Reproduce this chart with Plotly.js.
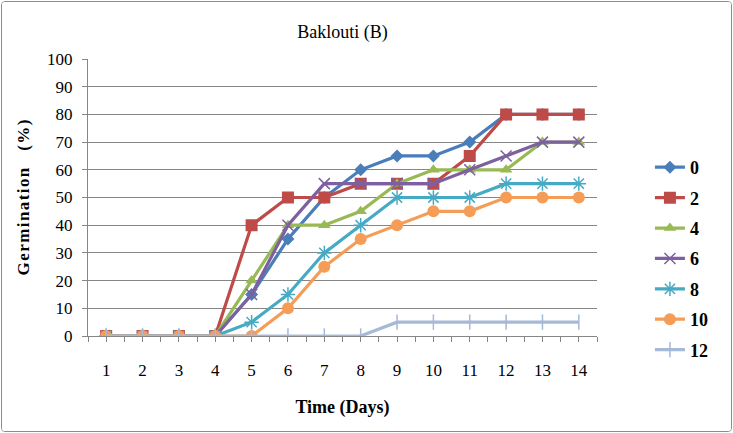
<!DOCTYPE html>
<html><head><meta charset="utf-8">
<script src="https://cdn.plot.ly/plotly-3.0.1.min.js"></script>
<style>
html,body{margin:0;padding:0;background:#fff;}
#wrap{position:absolute;left:1px;top:1px;width:729px;height:429px;border:1px solid #8c8c8c;border-radius:4px;overflow:hidden;}
#chart{width:729px;height:429px;}
</style></head>
<body><div id="wrap"><div id="chart"></div></div>
<script>
const days = [1,2,3,4,5,6,7,8,9,10,11,12,13,14];
const seriesNames = ['0','2','4','6','8','10','12'];
const s0  = [0,0,0,0,15,35,50,60,65,65,70,80,80,80];
const s2  = [0,0,0,0,40,50,50,55,55,55,65,80,80,80];
const s4  = [0,0,0,0,20,40,40,45,55,60,60,60,70,70];
const s6  = [0,0,0,0,15,40,55,55,55,55,60,65,70,70];
const s8  = [0,0,0,0,5,15,30,40,50,50,50,55,55,55];
const s10 = [0,0,0,0,0,10,25,35,40,45,45,50,50,50];
const s12 = [0,0,0,0,0,0,0,0,5,5,5,5,5,5];
const yTickVals = [0,10,20,30,40,50,60,70,80,90,100];

const values = [s0,s2,s4,s6,s8,s10,s12];
const colors = ['#4A7EBB','#BE4B48','#98B954','#7D60A0','#46AAC5','#F59D56','#A5B9D8'];
const symbols = ['diamond','square','triangle-up','x-thin-open','asterisk-open','circle','line-ns-open'];
const sizes = [10,12,11,11,12,12,11];

const traces = values.map((v,i)=>({
  x: days, y: v, name: seriesNames[i], type:'scatter', mode:'lines+markers',
  line:{color:colors[i], width:3.2},
  marker:{symbol:symbols[i], size:sizes[i], color:colors[i], line:{color:colors[i], width:(i>=3 && i!==5)?1.5:0}},
  legendgroup:'g'+i
}));

const serif = 'Liberation Serif';
const hs = '\u200A';
const yTitle = 'Germination'.split('').join(hs) + '\u00A0\u00A0\u00A0\u00A0' + '(%)'.split('').join(hs);
const layout = {
  width:729, height:429,
  margin:{l:86, r:134, t:57, b:95},
  paper_bgcolor:'#fff', plot_bgcolor:'#fff',
  showlegend:true,
  font:{family:serif},
  title:{text:'Baklouti (B)', x:0.5, xref:'paper', y:0.93, yref:'container', yanchor:'middle', font:{family:serif, size:18, color:'#000'}},
  xaxis:{range:[0.5,14.5], tickvals:days, ticks:'outside', ticklen:5, tickcolor:'#868686',
    minor:{dtick:0.5, tick0:0.5, ticks:'outside', ticklen:5, tickcolor:'#868686'},
    showgrid:false, showline:true, linecolor:'#868686', linewidth:1, zeroline:false,
    ticklabelstandoff:14,
    tickfont:{family:serif, size:17, color:'#000'},
    title:{text:'<b>Time (Days)</b>', font:{family:serif, size:18, color:'#000'}, standoff:20}},
  yaxis:{range:[0,100], tickvals:yTickVals, ticks:'outside', ticklen:5, tickcolor:'#868686',
    showgrid:true, gridcolor:'#868686', gridwidth:1, showline:true, linecolor:'#868686', zeroline:false,
    ticklabelstandoff:6,
    tickfont:{family:serif, size:17, color:'#000'},
    title:{text:'<b>'+yTitle+'</b>', font:{family:serif, size:17, color:'#000'}, standoff:13}},
  legend:{x:1.104, xanchor:'left', y:0.675, yanchor:'top', font:{family:serif, size:18, color:'#000', weight:'bold'},
    tracegroupgap:4, itemwidth:30, bgcolor:'rgba(0,0,0,0)'}
};
Plotly.newPlot('chart', traces, layout, {displayModeBar:false, staticPlot:true});
</script></body></html>
